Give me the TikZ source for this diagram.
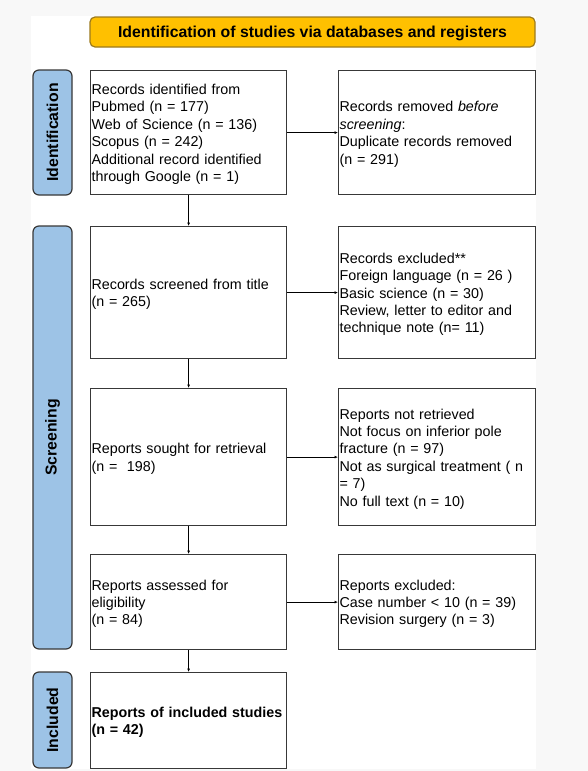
\documentclass[tikz,border=0pt]{standalone}
\usepackage{fontspec}
\setmainfont{Liberation Sans}
\usetikzlibrary{arrows.meta}
\definecolor{outerbg}{HTML}{F8F8F8}
\definecolor{headfill}{HTML}{FFC000}
\definecolor{headdraw}{HTML}{9C7A1E}
\definecolor{labfill}{HTML}{9DC3E6}
\definecolor{boxdraw}{HTML}{383838}
\newcommand{\boxlines}[1]{\hspace*{-2pt}\raisebox{0pt}[\dimexpr\height+4pt\relax][\depth]{\begin{tabular}{@{}l@{}}#1\end{tabular}}}
\tikzset{
  box/.style={draw=boxdraw, line width=1.2pt, fill=white, anchor=north west, inner sep=0pt,
    align=left, font=\fontsize{14.3}{17.4}\selectfont},
  lab/.style={draw=boxdraw, line width=1.2pt, fill=labfill, rounded corners=6pt, inner sep=0pt},
  labtext/.style={rotate=90, font=\bfseries\fontsize{15.8}{18}\selectfont},
  conn/.style={draw=black, line width=0.9pt, -{Latex[length=3.5pt,width=3pt]}}
}
\begin{document}
\begin{tikzpicture}[x=1pt,y=-1pt]
\useasboundingbox (0,0) rectangle (588,771);
\fill[outerbg] (0,0) rectangle (588,771);
\fill[white] (31,16) rectangle (536,769);
% header
\draw[draw=headdraw, fill=headfill, line width=1.2pt, rounded corners=5pt] (90,17) rectangle (535,47);
\node (head) at (312.5,33) {\bfseries\fontsize{15.8}{18}\selectfont Identification of studies via databases and registers};
% side labels
\draw[lab] (33,70) rectangle (72,195);
\node[labtext] (l1) at (52.5,132.5) {Identification};
\draw[lab] (33,226) rectangle (72,649);
\node[labtext] (l2) at (52.5,437.5) {Screening};
\draw[lab] (33,672) rectangle (72,768);
\node[labtext] (l3) at (52.5,720) {Included};
% main boxes
\node[box, minimum width=196pt, minimum height=124pt, text width=190pt] (b1) at (90,70) {\boxlines{Records identified from\\Pubmed (n = 177)\\Web of Science (n = 136)\\Scopus (n = 242)\\Additional record identified\\through Google (n = 1)}};
\node[box, minimum width=197pt, minimum height=124pt, text width=191pt] (r1) at (338,70) {\boxlines{Records removed \textit{before}\\\textit{screening}:\\Duplicate records removed\\(n = 291)}};
\node[box, minimum width=196pt, minimum height=132pt, text width=190pt] (b2) at (90,226) {\boxlines{Records screened from title\\(n = 265)}};
\node[box, minimum width=197pt, minimum height=132pt, text width=191pt] (r2) at (338,226) {\boxlines{Records excluded**\\Foreign language (n = 26 )\\Basic science (n = 30)\\Review, letter to editor and\\technique note (n= 11)}};
\node[box, minimum width=196pt, minimum height=137pt, text width=190pt] (b3) at (90,388) {\boxlines{Reports sought for retrieval\\(n = \ 198)}};
\node[box, minimum width=197pt, minimum height=137pt, text width=191pt] (r3) at (338,388) {\boxlines{Reports not retrieved\\Not focus on inferior pole\\fracture (n = 97)\\Not as surgical treatment ( n\\= 7)\\No full text (n = 10)}};
\node[box, minimum width=196pt, minimum height=95pt, text width=190pt] (b4) at (90,554) {\boxlines{Reports assessed for\\eligibility\\(n = 84)}};
\node[box, minimum width=197pt, minimum height=95pt, text width=191pt] (r4) at (338,554) {\boxlines{Reports excluded:\\Case number < 10 (n = 39)\\Revision surgery (n = 3)}};
\node[box, minimum width=196pt, minimum height=96pt, text width=190pt] (b5) at (90,672) {\boxlines{\bfseries Reports of included studies\\\bfseries (n = 42)}};
% connectors
\draw[conn] (b1.south) -- (b2.north);
\draw[conn] (b2.south) -- (b3.north);
\draw[conn] (b3.south) -- (b4.north);
\draw[conn] (b4.south) -- (b5.north);
\draw[conn] (b1.east) -- (r1.west);
\draw[conn] (b2.east) -- (r2.west);
\draw[conn] (b3.east) -- (r3.west);
\draw[conn] (b4.east) -- (r4.west);
\end{tikzpicture}
\end{document}
